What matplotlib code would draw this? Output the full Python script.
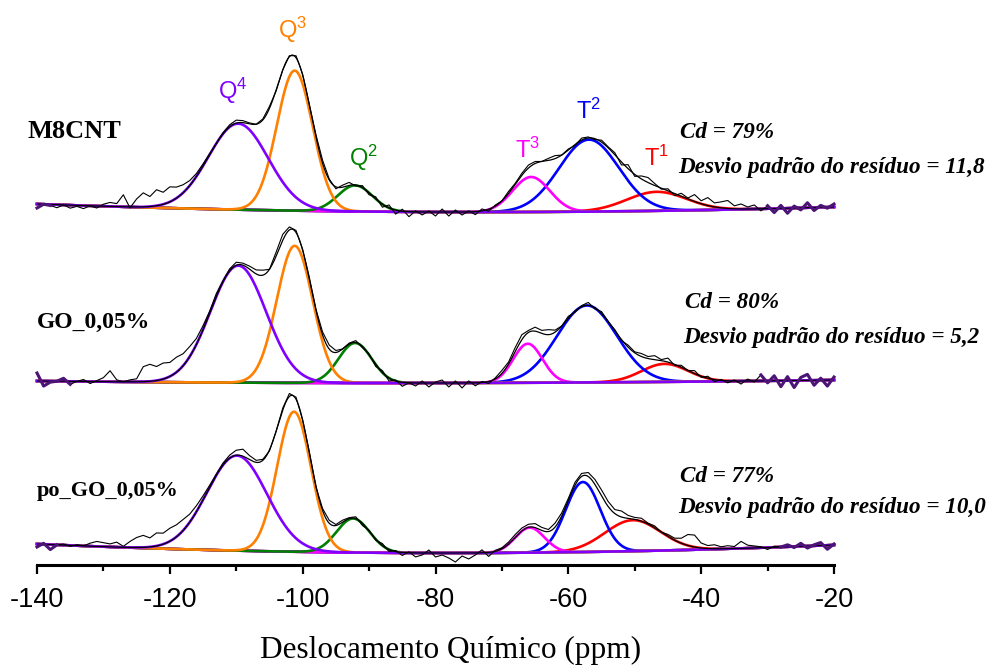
import numpy as np
import matplotlib
matplotlib.use('Agg')
import matplotlib.pyplot as plt

plt.rcParams['axes.unicode_minus'] = False

# amostras e componentes do ajuste (Q4, Q3, Q2, T3, T2, T1)
amostras = ['M8CNT', 'GO_0,05%', 'po_GO_0,05%']
componentes = ['Q4', 'Q3', 'Q2', 'T3', 'T2', 'T1']
cores = ['#8000FF', '#FF8000', '#008000', '#FF00FF', '#0000FF', '#FF0000']

centros_m8 = [-109.7, -101.2, -92.1, -65.6, -56.9, -46.7]
alturas_m8 = [86, 140, 26, 35, 72, 19]
larguras_m8 = [4.5, 2.7, 2.6, 2.8, 4.5, 4.5]

centros_go = [-109.7, -101.2, -92.1, -66.1, -57.2, -45.5]
alturas_go = [117, 137, 40, 39, 77, 18]
larguras_go = [4.2, 2.7, 2.5, 2.2, 4.5, 3.5]

centros_po = [-109.9, -101.3, -92.4, -65.8, -57.8, -50.3]
alturas_po = [95, 140, 34, 25, 70, 31]
larguras_po = [4.5, 2.55, 2.5, 2.2, 2.6, 4.2]

# linha de base (em -140, -80 e -20 ppm), ja com o deslocamento vertical de cada espectro
base_m8 = [361, 353, 358]
base_go = [184, 182, 185]
base_po = [21, 12, 20]

# residuo experimental - ajuste, de -140 a -20 ppm, passo de 1 ppm
res_m8 = [-4, 0, -1, -3, 0, -3, -1, -3, 0, -2,
          2, 4, 3, 12, -1, 8, 14, 10, 16, 12,
          15, 11, 8, 5, 3, 2, 1, 0, 1, 2,
          3, 2, 1, 0, 1, 2, -1, 0, 1, 2,
          1, 0, 2, 3, 1, -2, 2, 3, -1, 2,
          -2, 2, -3, 3, -4, 2, -5, 1, -3, 1,
          -4, 3, -4, 2, -3, 1, -3, 2, -2, 1,
          0, 2, 1, 2, 3, 2, 0, 2, 3, 0,
          1, -1, 2, 1, -1, 2, 1, 2, -3, 4,
          -2, 3, 5, 2, -1, 2, -2, 3, 1, 7,
          3, 8, 4, 6, 8, 3, 5, 2, 4, -2,
          3, -4, 3, -5, 2, -2, 5, -3, 2, -1,
          3]
res_go = [8, -5, -1, 0, 3, -3, 0, 2, -2, 1,
          4, 11, 2, 0, 2, 3, 15, 17, 14, 16,
          14, 15, 12, 10, 6, 4, 2, 3, 1, 2,
          3, 2, 3, 4, 5, 0, 4, 6, 3, 2,
          1, 2, 1, 3, 4, 2, 0, 1, 2, -1,
          1, -2, 2, -3, 1, -4, 0, -3, 2, -4,
          1, 3, -4, 2, -5, 2, -3, 1, -2, 1,
          3, 2, 4, 5, 2, 4, 3, 5, 2, 0,
          2, -1, 1, 3, -1, 2, 0, 1, -1, 2,
          1, 3, 2, 4, 1, 4, -1, 2, 0, 3,
          -1, 2, -2, 1, -2, 1, -3, 2, -1, 6,
          -2, 5, -6, 4, -7, 3, 6, -5, 2, -6,
          3]
res_po = [-3, 1, -5, 0, 1, -1, 1, 0, 3, 5,
          4, 3, 5, 1, 6, 10, 12, 9, 13, 11,
          13, 12, 11, 8, 6, 4, 2, 1, 2, 3,
          5, 7, 4, 2, 1, -1, 0, 2, 3, 2,
          0, 1, -1, 2, 3, 1, 2, 1, 2, -2,
          1, -1, 2, -2, 1, -3, 1, -4, -2, 3,
          -4, -2, -5, -9, -3, -6, -2, 3, -4, 1,
          1, 2, 3, 3, 3, 4, 3, 2, 4, 3,
          2, 3, 3, 4, 5, 6, 5, 4, 6, 3,
          2, 3, 1, 2, 0, 2, 2, 5, 11, 12,
          5, 3, 4, 2, 3, 2, 7, 3, 2, 1,
          -2, 1, 0, 2, -1, 3, -2, 1, 3, -4,
          1]

# trechos das pontas do espectro (fora da regiao ajustada)
pontas = [(-138, -30), (-135, -31), (-137, -28)]

# textos
cd = ['Cd = 79%', 'Cd = 80%', 'Cd = 77%']
desvio = ['Desvio padrão do resíduo = 11,8',
          'Desvio padrão do resíduo = 5,2',
          'Desvio padrão do resíduo = 10,0']
rotulos_picos = [r'$\mathregular{Q^4}$', r'$\mathregular{Q^3}$', r'$\mathregular{Q^2}$',
                 r'$\mathregular{T^3}$', r'$\mathregular{T^2}$', r'$\mathregular{T^1}$']
pos_picos = [(-110.6, 474), (-101.5, 535), (-90.9, 407),
             (-66.1, 415), (-56.9, 454), (-46.7, 407)]

ppm = np.arange(-140, -19.5, 1.0)
ppm_fino = np.linspace(-140, -20, 1201)


def gauss(x, c, h, s):
    return h * np.exp(-0.5 * ((x - c) / s) ** 2)


def linha_base(x, b):
    coef = np.polyfit([-140, -80, -20], b, 2)
    return np.polyval(coef, x)


fig = plt.figure(figsize=(9.91, 6.68), dpi=100)
ax = fig.add_axes([37 / 991, 103 / 668, 797 / 991, 565 / 668])

espectros = [(centros_m8, alturas_m8, larguras_m8, base_m8, res_m8),
             (centros_go, alturas_go, larguras_go, base_go, res_go),
             (centros_po, alturas_po, larguras_po, base_po, res_po)]

for k, (cs, hs, ss, b, res) in enumerate(espectros):
    bf = linha_base(ppm_fino, b)
    total = bf.copy()
    # desenha T1 primeiro e Q4 por ultimo
    for i in reversed(range(len(cs))):
        g = gauss(ppm_fino, cs[i], hs[i], ss[i])
        total += g
        ax.plot(ppm_fino, bf + g, color=cores[i], lw=1.9, clip_on=False, zorder=2 + (5 - i) * 0.1)

    exp_y = linha_base(ppm, b) + np.array(res, dtype=float)
    for i in range(len(cs)):
        exp_y += gauss(ppm, cs[i], hs[i], ss[i])

    esq, dir_ = pontas[k]
    ax.plot(ppm_fino, total, color='black', lw=0.9, zorder=4)
    meio = (ppm >= esq) & (ppm <= dir_)
    ax.plot(ppm[meio], exp_y[meio], color='black', lw=0.8, zorder=4)
    m1 = ppm <= esq
    m2 = ppm >= dir_
    ax.plot(ppm[m1], exp_y[m1], color='#4B1475', lw=2.2, zorder=4, clip_on=False)
    ax.plot(ppm[m2], exp_y[m2], color='#4B1475', lw=2.2, zorder=4, clip_on=False)

# rotulos das amostras
for nome, (x, y, tam) in zip(amostras, [(-141.5, 433, 19), (-140.0, 243, 17), (-140.0, 74, 16)]):
    ax.text(x, y, nome, family='Liberation Serif', weight='bold', fontsize=tam,
            ha='left', va='center', clip_on=False)

# Cd e desvio padrao
for t1, t2, (x, y1, y2) in zip(cd, desvio, [(-43.2, 432, 397), (-42.4, 262, 228), (-43.2, 89, 58)]):
    ax.text(x, y1, t1, family='Liberation Serif', weight='bold', style='italic',
            fontsize=16.7, ha='left', va='center')
    ax.text(x - 0.3, y2, t2, family='Liberation Serif', weight='bold', style='italic',
            fontsize=16.7, ha='left', va='center', clip_on=False)

# rotulos dos picos
for r, (x, y), c in zip(rotulos_picos, pos_picos, cores):
    ax.text(x, y, r, color=c, family='Liberation Sans', fontsize=17, ha='center', va='center')

ax.set_xlim(-140, -20)
ax.set_ylim(0, 565)
ax.set_xticks(np.arange(-140, -19, 20))
ax.set_xticks(np.arange(-130, -20, 20), minor=True)
ax.tick_params(axis='x', which='major', direction='out', length=6.5, width=1.6,
               pad=9, labelsize=19.5)
ax.tick_params(axis='x', which='minor', direction='out', length=4.5, width=1.6)
for lab in ax.get_xticklabels():
    lab.set_family('Liberation Sans')
ax.set_yticks([])
for lado in ['top', 'left', 'right']:
    ax.spines[lado].set_visible(False)
ax.spines['bottom'].set_linewidth(2.2)
ax.patch.set_alpha(0)

fig.text(451 / 991, 1 - 650 / 668, 'Deslocamento Químico (ppm)', family='Liberation Serif',
         fontsize=22.5, ha='center', va='center')

fig.savefig('out.png', dpi=100)
